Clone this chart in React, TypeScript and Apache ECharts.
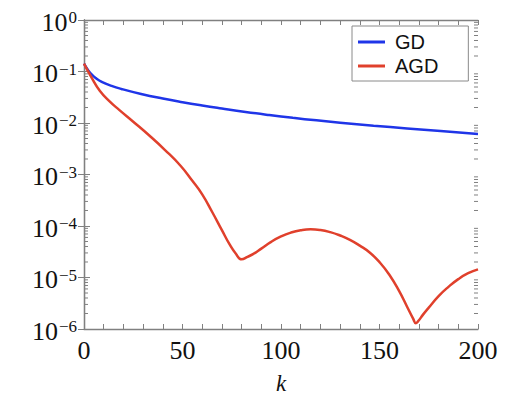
import React, { useEffect, useRef } from "react";
import * as echarts from "echarts";

const gdK = [0, 2, 4, 6, 9, 14, 19, 29, 40, 50, 60, 70, 82, 94, 106, 118, 130, 147, 164, 181, 200];
const gdV = [0.1425, 0.1075, 0.0866, 0.0744, 0.0631, 0.0526, 0.0458, 0.0366, 0.0298, 0.0253, 0.02184, 0.0191, 0.0164, 0.01429, 0.0126, 0.01126, 0.01015, 0.00887, 0.00786, 0.00699, 0.00614];

const agdK = [0, 4, 8, 13, 18, 25, 33, 41, 49, 55, 60, 65, 70, 74, 77, 80, 83, 86, 90, 95, 100, 105, 110, 115, 120, 125, 130, 135, 140, 145, 150, 155, 160, 164, 167, 168.5, 170, 172, 175, 180, 185, 190, 195, 200];
const agdV = [0.1425, 0.0745, 0.0424, 0.0263, 0.0178, 0.0106, 0.00578, 0.00302, 0.00148, 7.55e-4, 4.12e-4, 1.89e-4, 8.3e-5, 4.33e-5, 2.93e-5, 2.26e-5, 2.52e-5, 2.87e-5, 3.64e-5, 4.93e-5, 6.26e-5, 7.44e-5, 8.29e-5, 8.66e-5, 8.37e-5, 7.6e-5, 6.54e-5, 5.38e-5, 4.15e-5, 3.06e-5, 1.99e-5, 1.13e-5, 5.42e-6, 2.71e-6, 1.61e-6, 1.3e-6, 1.48e-6, 1.88e-6, 2.6e-6, 4.36e-6, 6.59e-6, 9.3e-6, 1.21e-5, 1.44e-5];

const xTickLabels = [0, 50, 100, 150, 200];
const decades = [-6, -5, -4, -3, -2, -1];
const minorMult = [2, 3, 4, 5, 6, 7, 8, 9];

const AXIS_COLOR = "#808080";
const SERIF = "Liberation Serif";

export default function App() {
  const ref = useRef<HTMLDivElement>(null);
  useEffect(() => {
    if (!ref.current) return;
    const chart = echarts.init(ref.current, null, { renderer: "svg" });
    const minorTicks: number[][] = [];
    decades.forEach((e) => minorMult.forEach((m) => minorTicks.push([0, m * Math.pow(10, e)])));

    const sup = (v: number) => {
      const e = Math.round(Math.log10(v));
      const s = e < 0 ? "\u2212" + -e : String(e);
      return `{b|10}{s|${s}}`;
    };

    const commonX = {
      type: "value" as const,
      min: 0,
      max: 200,
      interval: 10,
      splitLine: { show: false },
      axisLine: { show: true, lineStyle: { color: AXIS_COLOR, width: 1.3 } },
      axisTick: { show: true, inside: true, length: 5, lineStyle: { color: AXIS_COLOR, width: 1 } },
    };
    const commonY = {
      type: "log" as const,
      logBase: 10,
      min: 1e-6,
      max: 1,
      interval: 1,
      splitNumber: 6,
      splitLine: { show: false },
      axisLine: { show: true, lineStyle: { color: AXIS_COLOR, width: 1.3 } },
      axisTick: { show: true, inside: true, length: 6, lineStyle: { color: AXIS_COLOR, width: 1 } },
    };

    chart.setOption({
      animation: false,
      textStyle: { fontFamily: SERIF },
      grid: { left: 84, right: 42, top: 20, bottom: 61 },
      legend: {
        data: ["GD", "AGD"],
        orient: "vertical",
        left: 352,
        top: 26,
        padding: [4, 30, 3, 6],
        itemGap: 0,
        itemWidth: 27,
        itemHeight: 3,
        icon: "rect",
        borderColor: "#8a8a8a",
        borderWidth: 1,
        borderRadius: 0,
        textStyle: {
          fontFamily: "Liberation Sans",
          fontSize: 20,
          color: "#111",
          lineHeight: 24,
          padding: [0, 0, 0, 5],
        },
      },
      xAxis: [
        {
          ...commonX,
          position: "bottom",
          name: "k",
          nameLocation: "middle",
          nameGap: 43,
          nameTextStyle: { fontFamily: SERIF, fontStyle: "italic", fontSize: 23, color: "#111" },
          axisLabel: {
            margin: 8,
            fontFamily: SERIF,
            fontSize: 26,
            color: "#111",
            formatter: (v: number) => (xTickLabels.includes(v) ? String(v) : ""),
          },
        },
        { ...commonX, position: "top", axisLabel: { show: false } },
      ],
      yAxis: [
        {
          ...commonY,
          position: "left",
          axisLabel: {
            margin: 7,
            fontFamily: SERIF,
            formatter: sup,
            padding: [4, 0, 0, 0],
            rich: {
              b: { fontFamily: SERIF, fontSize: 26, lineHeight: 26, color: "#111", verticalAlign: "bottom" },
              s: { fontFamily: SERIF, fontSize: 17, lineHeight: 19, color: "#111", verticalAlign: "top", padding: [0, 0, 0, 1] },
            },
          },
        },
        { ...commonY, position: "right", axisLabel: { show: false } },
      ],
      series: [
        {
          name: "minor",
          type: "custom",
          silent: true,
          xAxisIndex: 0,
          yAxisIndex: 0,
          data: minorTicks,
          renderItem: (params: any, api: any) => {
            const v = api.value(1);
            const pl = api.coord([0, v]);
            const pr = api.coord([200, v]);
            return {
              type: "group",
              children: [
                { type: "line", shape: { x1: pl[0], y1: pl[1], x2: pl[0] + 4, y2: pl[1] }, style: { stroke: AXIS_COLOR, lineWidth: 1 } },
                { type: "line", shape: { x1: pr[0], y1: pr[1], x2: pr[0] - 4, y2: pr[1] }, style: { stroke: AXIS_COLOR, lineWidth: 1 } },
              ],
            };
          },
        },
        {
          name: "GD",
          type: "line",
          xAxisIndex: 0,
          yAxisIndex: 0,
          symbol: "none",
          smooth: 0.5,
          lineStyle: { color: "#1f35e8", width: 2.5 },
          itemStyle: { color: "#1f35e8" },
          data: gdK.map((k, i) => [k, gdV[i]]),
        },
        {
          name: "AGD",
          type: "line",
          xAxisIndex: 0,
          yAxisIndex: 0,
          symbol: "none",
          smooth: 0.5,
          lineStyle: { color: "#e0402c", width: 2.5 },
          itemStyle: { color: "#e0402c" },
          data: agdK.map((k, i) => [k, agdV[i]]),
        },
      ],
    });
    return () => chart.dispose();
  }, []);
  return <div ref={ref} style={{ position: "fixed", left: 0, top: 0, width: 520, height: 400, background: "#fff" }} />;
}
